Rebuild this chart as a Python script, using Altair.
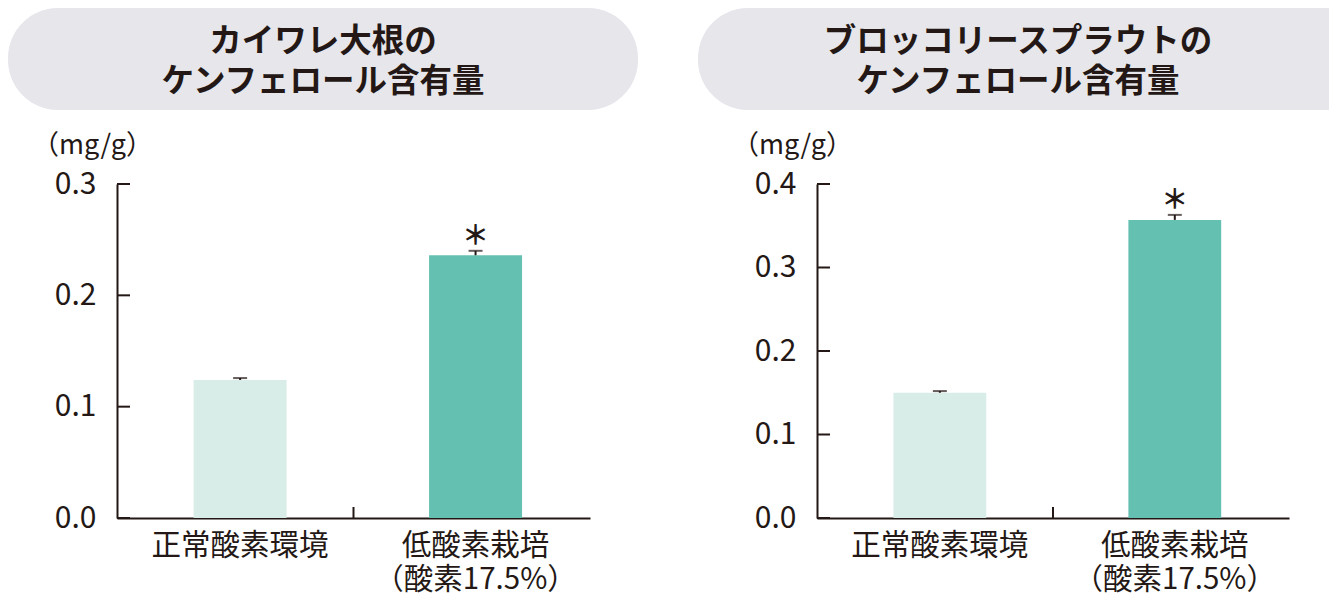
import altair as alt
import pandas as pd

FONT = "Noto Sans CJK JP"
DARK = "#231815"

categories = ["正常酸素環境", "低酸素栽培\n（酸素17.5%）"]
bar_colors = ["#d8ede7", "#64c1b2"]
sig_marks = ["", "＊"]

kaiware_title = "カイワレ大根の\nケンフェロール含有量"
kaiware_values = [0.124, 0.236]
kaiware_errors = [0.0017, 0.004]
kaiware_ticks = [0.0, 0.1, 0.2, 0.3]

broc_title = "ブロッコリースプラウトの\nケンフェロール含有量"
broc_values = [0.150, 0.357]
broc_errors = [0.002, 0.006]
broc_ticks = [0.0, 0.1, 0.2, 0.3, 0.4]

unit_label = "（mg/g）"


def panel(title, values, errors, ticks, width, height, box_left, box_right, round_right=True):
    df = pd.DataFrame({
        "cat": categories,
        "value": values,
        "upper": [v + e for v, e in zip(values, errors)],
        "sig": sig_marks,
    })
    ymax = ticks[-1]
    xscale = alt.Scale(paddingInner=0.605, paddingOuter=0.307, align=0.53)
    xenc = alt.X(
        "cat:N", sort=categories, scale=xscale,
        axis=alt.Axis(
            title=None, labelAngle=0, labelFont=FONT, labelFontSize=29.5,
            labelColor=DARK, labelPadding=13, labelBaseline="top",
            labelLineHeight=34, labelExpr="split(datum.label, '\\n')",
            labelLimit=0, ticks=False, tickSize=0, domainColor=DARK, domainWidth=2,
        ),
    )
    yscale = alt.Scale(domain=[0, ymax], nice=False)
    yenc = alt.Y(
        "value:Q", scale=yscale,
        axis=alt.Axis(
            values=ticks, format=".1f", ticks=False, tickSize=0, grid=False,
            labelPadding=21, labelFont=FONT, labelFontSize=30, labelColor=DARK,
            domainColor=DARK, domainWidth=2,
            title=unit_label, titleAngle=0, titleX=-25, titleY=-39,
            titleAlign="center", titleBaseline="middle", titleFont=FONT,
            titleFontSize=27, titleFontWeight="normal", titleColor=DARK,
        ),
    )

    tdf = pd.DataFrame({"t": [title]})
    box = alt.Chart(tdf).mark_rect(
        color="#e6e6eb",
        cornerRadiusTopLeft=50, cornerRadiusBottomLeft=50,
        cornerRadiusTopRight=50 if round_right else 0,
        cornerRadiusBottomRight=50 if round_right else 0,
    ).encode(
        x=alt.value(box_left), x2=alt.value(box_right),
        y=alt.value(-176), y2=alt.value(-74),
    )
    ttl = alt.Chart(tdf).mark_text(
        lineBreak="\n", font=FONT, fontSize=32.5, fontWeight="bold",
        color=DARK, align="center", baseline="middle", lineHeight=40,
    ).encode(
        text="t:N",
        x=alt.value((box_left + box_right) / 2 if round_right else 201),
        y=alt.value(-142),
    )

    bars = alt.Chart(df).mark_bar().encode(
        x=xenc, y=yenc,
        color=alt.Color("cat:N", sort=categories,
                        scale=alt.Scale(domain=categories, range=bar_colors),
                        legend=None),
    )
    stem = alt.Chart(df).mark_rule(color=DARK, strokeWidth=2).encode(
        x=alt.X("cat:N", sort=categories), y="value:Q", y2="upper:Q",
    )
    cap = alt.Chart(df).mark_tick(color=DARK, size=14, thickness=2).encode(
        x=alt.X("cat:N", sort=categories), y=alt.Y("upper:Q"),
    )
    star = alt.Chart(df).mark_text(
        font=FONT, fontSize=27, fontWeight="bold", color=DARK,
        baseline="middle", dy=-14,
    ).encode(
        x=alt.X("cat:N", sort=categories), y=alt.Y("upper:Q"), text="sig:N",
    )
    tick_df = pd.DataFrame({"value": ticks})
    yticks = alt.Chart(tick_df).mark_rule(color=DARK, strokeWidth=2).encode(
        y=alt.Y("value:Q"), x=alt.value(0), x2=alt.value(13),
    )
    mid = alt.Chart(tdf).mark_rule(color=DARK, strokeWidth=2).encode(
        x=alt.value(width / 2), y=alt.value(height), y2=alt.value(height - 11),
    )
    return alt.layer(box, ttl, bars, stem, cap, star, yticks, mid).properties(
        width=width, height=height
    )


left = panel(kaiware_title, kaiware_values, kaiware_errors, kaiware_ticks,
             473, 334, -109, 521)
right = panel(broc_title, broc_values, broc_errors, broc_ticks,
              472, 334, -119, 512, round_right=False)

chart = alt.hconcat(left, right, spacing=60).properties(padding=0).configure_view(
    stroke=None
)

chart.save("out.html", embed_options={"renderer": "svg", "actions": False})
